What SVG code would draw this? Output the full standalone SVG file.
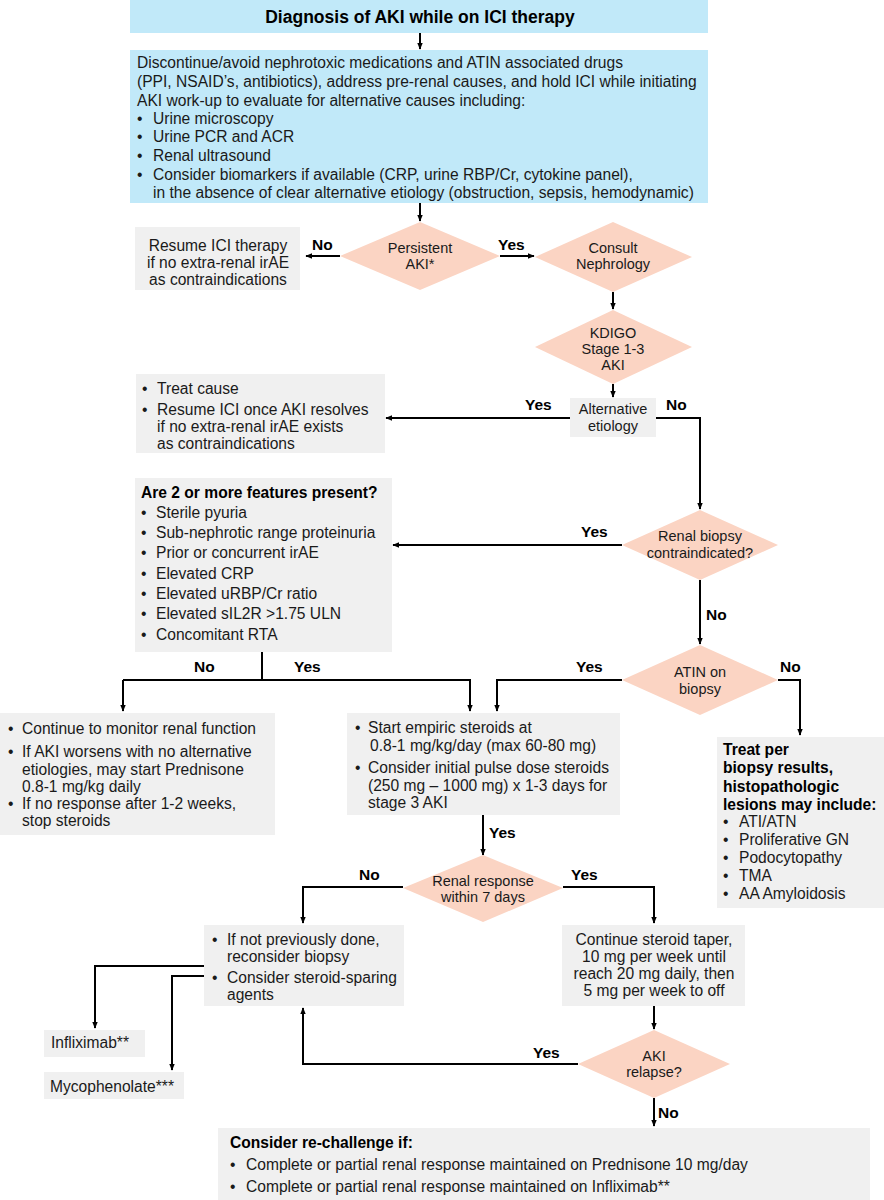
<svg xmlns="http://www.w3.org/2000/svg" width="884" height="1200" viewBox="0 0 884 1200">
<defs>
<marker id="ah" viewBox="0 0 10 10" refX="9" refY="5" markerWidth="7" markerHeight="7" markerUnits="userSpaceOnUse" orient="auto"><path d="M0,1 L10,5 L0,9 z" fill="#000"/></marker>
<style>
text{font-family:"Liberation Sans",Arial,sans-serif;font-size:15.6px;fill:#1a1a1a}
.b{font-weight:bold;fill:#000}
.c{text-anchor:middle}
.d{font-size:14.5px}
.blue{fill:#c1e9f9}
.gray{fill:#f0f0f0}
.dia{fill:#fbd4c3}
.ln{stroke:#000;stroke-width:2;fill:none}
.ar{stroke:#000;stroke-width:2;fill:none;marker-end:url(#ah)}
.lb{font-weight:bold;font-size:15.5px;fill:#000}
</style>
</defs>
<rect width="884" height="1200" fill="#fff"/>

<g id="connectors">
<path class="ar" d="M420,33 V49"/>
<path class="ar" d="M420,203 V221"/>
<path class="ar" d="M340,256 H306"/>
<path class="ar" d="M500,256 H534"/>
<path class="ar" d="M613,292 V309"/>
<path class="ar" d="M613,384 V397"/>
<path class="ar" d="M570,418 H386"/>
<path class="ar" d="M656,418 H700 V509"/>
<path class="ar" d="M622,545 H393"/>
<path class="ar" d="M700,580 V644"/>
<path class="ar" d="M622,680 H497 V711"/>
<path class="ar" d="M778,680 H800 V735"/>
<path class="ln" d="M262,652 V680"/>
<path class="ar" d="M123,680 H470 V711"/>
<path class="ar" d="M123,680 V711"/>
<path class="ar" d="M483,815 V855"/>
<path class="ar" d="M403,887 H303 V923"/>
<path class="ar" d="M563,887 H654 V923"/>
<path class="ar" d="M204,966 H95 V1028"/>
<path class="ar" d="M204,976 H172 V1070"/>
<path class="ar" d="M654,1006 V1029"/>
<path class="ar" d="M578,1064 H303 V1008"/>
<path class="ar" d="M654,1098 V1126"/>
<text class="lb" x="312" y="250">No</text>
<text class="lb" x="498" y="250">Yes</text>
<text class="lb" x="525" y="410">Yes</text>
<text class="lb" x="666" y="410">No</text>
<text class="lb" x="581" y="537">Yes</text>
<text class="lb" x="706" y="620">No</text>
<text class="lb" x="576" y="672">Yes</text>
<text class="lb" x="780" y="672">No</text>
<text class="lb" x="194" y="672">No</text>
<text class="lb" x="294" y="672">Yes</text>
<text class="lb" x="489" y="838">Yes</text>
<text class="lb" x="359" y="880">No</text>
<text class="lb" x="571" y="880">Yes</text>
<text class="lb" x="533" y="1058">Yes</text>
<text class="lb" x="658" y="1118">No</text>
</g>

<g id="n-diagnosis">
<rect class="blue" x="130" y="0" width="578" height="33"/>
<text class="b c" x="420" y="23" style="font-size:17.5px">Diagnosis of AKI while on ICI therapy</text>
</g>

<g id="n-discontinue">
<rect class="blue" x="130" y="50" width="578" height="153"/>
<text x="137" y="68">Discontinue/avoid nephrotoxic medications and ATIN associated drugs</text>
<text x="137" y="87">(PPI, NSAID’s, antibiotics), address pre-renal causes, and hold ICI while initiating</text>
<text x="137" y="106">AKI work-up to evaluate for alternative causes including:</text>
<text x="137" y="124">•</text><text x="153" y="124">Urine microscopy</text>
<text x="137" y="142">•</text><text x="153" y="142">Urine PCR and ACR</text>
<text x="137" y="161">•</text><text x="153" y="161">Renal ultrasound</text>
<text x="137" y="180">•</text><text x="153" y="180">Consider biomarkers if available (CRP, urine RBP/Cr, cytokine panel),</text>
<text x="153" y="198">in the absence of clear alternative etiology (obstruction, sepsis, hemodynamic)</text>
</g>

<g id="n-persistent">
<polygon class="dia" points="420,222 500,256 420,290 340,256"/>
<text class="c d" x="420" y="253">Persistent</text>
<text class="c d" x="420" y="269">AKI*</text>
</g>

<g id="n-resume">
<rect class="gray" x="135" y="227" width="165" height="63"/>
<text class="c" x="218" y="251">Resume ICI therapy</text>
<text class="c" x="218" y="268">if no extra-renal irAE</text>
<text class="c" x="218" y="285">as contraindications</text>
</g>

<g id="n-consult">
<polygon class="dia" points="613,222 692,257 613,292 535,257"/>
<text class="c d" x="613" y="253">Consult</text>
<text class="c d" x="613" y="269">Nephrology</text>
</g>

<g id="n-kdigo">
<polygon class="dia" points="613,310 692,347 613,384 535,347"/>
<text class="c d" x="613" y="338">KDIGO</text>
<text class="c d" x="613" y="354">Stage 1-3</text>
<text class="c d" x="613" y="370">AKI</text>
</g>

<g id="n-alternative">
<rect class="gray" x="570" y="398" width="86" height="39"/>
<text class="c d" x="613" y="414">Alternative</text>
<text class="c d" x="613" y="431">etiology</text>
</g>

<g id="n-treatcause">
<rect class="gray" x="136" y="374" width="249" height="79"/>
<text x="142" y="394">•</text><text x="157" y="394">Treat cause</text>
<text x="142" y="415">•</text><text x="157" y="415">Resume ICI once AKI resolves</text>
<text x="157" y="432">if no extra-renal irAE exists</text>
<text x="157" y="449">as contraindications</text>
</g>

<g id="n-biopsy-contra">
<polygon class="dia" points="700,510 778,545 700,580 622,545"/>
<text class="c d" x="700" y="541">Renal biopsy</text>
<text class="c d" x="700" y="558">contraindicated?</text>
</g>

<g id="n-features">
<rect class="gray" x="135" y="478" width="257" height="174"/>
<text class="b" x="141" y="498">Are 2 or more features present?</text>
<text x="141" y="518">•</text><text x="156" y="518">Sterile pyuria</text>
<text x="141" y="538">•</text><text x="156" y="538">Sub-nephrotic range proteinuria</text>
<text x="141" y="558">•</text><text x="156" y="558">Prior or concurrent irAE</text>
<text x="141" y="579">•</text><text x="156" y="579">Elevated CRP</text>
<text x="141" y="599">•</text><text x="156" y="599">Elevated uRBP/Cr ratio</text>
<text x="141" y="619">•</text><text x="156" y="619">Elevated sIL2R &gt;1.75 ULN</text>
<text x="141" y="640">•</text><text x="156" y="640">Concomitant RTA</text>
</g>

<g id="n-atin">
<polygon class="dia" points="700,645 778,680 700,715 622,680"/>
<text class="c d" x="700" y="677">ATIN on</text>
<text class="c d" x="700" y="694">biopsy</text>
</g>

<g id="n-monitor">
<rect class="gray" x="0" y="713" width="275" height="122"/>
<text x="8" y="734">•</text><text x="22" y="734">Continue to monitor renal function</text>
<text x="8" y="757">•</text><text x="22" y="757">If AKI worsens with no alternative</text>
<text x="22" y="775">etiologies, may start Prednisone</text>
<text x="22" y="792">0.8-1 mg/kg daily</text>
<text x="8" y="809">•</text><text x="22" y="809">If no response after 1-2 weeks,</text>
<text x="22" y="826">stop steroids</text>
</g>

<g id="n-steroids">
<rect class="gray" x="347" y="713" width="273" height="102"/>
<text x="355" y="733">•</text><text x="368" y="733">Start empiric steroids at</text>
<text x="370" y="751">0.8-1 mg/kg/day (max 60-80 mg)</text>
<text x="355" y="773">•</text><text x="368" y="773">Consider initial pulse dose steroids</text>
<text x="368" y="791">(250 mg – 1000 mg) x 1-3 days for</text>
<text x="368" y="808">stage 3 AKI</text>
</g>

<g id="n-treatper">
<rect class="gray" x="717" y="737" width="167" height="171"/>
<text class="b" x="723" y="755">Treat per</text>
<text class="b" x="723" y="773">biopsy results,</text>
<text class="b" x="723" y="792">histopathologic</text>
<text class="b" x="723" y="810">lesions may include:</text>
<text x="723" y="827">•</text><text x="739" y="827">ATI/ATN</text>
<text x="723" y="845">•</text><text x="739" y="845">Proliferative GN</text>
<text x="723" y="863">•</text><text x="739" y="863">Podocytopathy</text>
<text x="723" y="881">•</text><text x="739" y="881">TMA</text>
<text x="723" y="899">•</text><text x="739" y="899">AA Amyloidosis</text>
</g>

<g id="n-response">
<polygon class="dia" points="483,855 563,888 483,922 403,888"/>
<text class="c d" x="483" y="886">Renal response</text>
<text class="c d" x="483" y="902">within 7 days</text>
</g>

<g id="n-reconsider">
<rect class="gray" x="204" y="925" width="200" height="81"/>
<text x="212" y="945">•</text><text x="227" y="945">If not previously done,</text>
<text x="227" y="962">reconsider biopsy</text>
<text x="212" y="983">•</text><text x="227" y="983">Consider steroid-sparing</text>
<text x="227" y="1000">agents</text>
</g>

<g id="n-taper">
<rect class="gray" x="562" y="925" width="183" height="81"/>
<text class="c" x="654" y="945">Continue steroid taper,</text>
<text class="c" x="654" y="962">10 mg per week until</text>
<text class="c" x="654" y="979">reach 20 mg daily, then</text>
<text class="c" x="654" y="996">5 mg per week to off</text>
</g>

<g id="n-infliximab">
<rect class="gray" x="44" y="1030" width="101" height="27"/>
<text x="51" y="1048">Infliximab**</text>
</g>

<g id="n-mycophenolate">
<rect class="gray" x="44" y="1072" width="140" height="27"/>
<text x="50" y="1092">Mycophenolate***</text>
</g>

<g id="n-relapse">
<polygon class="dia" points="654,1030 730,1064 654,1098 578,1064"/>
<text class="c d" x="654" y="1061">AKI</text>
<text class="c d" x="654" y="1077">relapse?</text>
</g>

<g id="n-rechallenge">
<rect class="gray" x="218" y="1128" width="652" height="72"/>
<text class="b" x="230" y="1148">Consider re-challenge if:</text>
<text x="230" y="1170">•</text><text x="246" y="1170">Complete or partial renal response maintained on Prednisone 10 mg/day</text>
<text x="230" y="1192">•</text><text x="246" y="1192">Complete or partial renal response maintained on Infliximab**</text>
</g>
</svg>
